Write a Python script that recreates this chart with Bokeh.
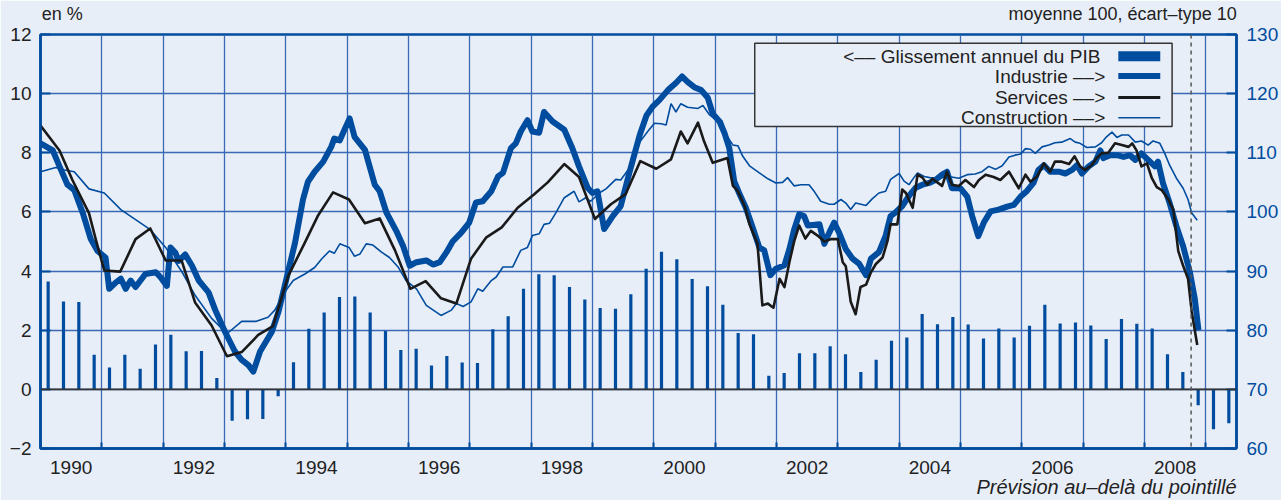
from bokeh.plotting import figure
from bokeh.models import Range1d, LinearAxis, FixedTicker, Span, Label
from bokeh.embed import file_html
from bokeh.resources import INLINE

# ---------------- data ----------------
# GDP year-on-year growth (%), quarterly, 1990T1 .. 2009T2 (left axis)
gdp_start_year = 1990
gdp_growth = [3.65, 2.97, 2.95, 1.17,
              0.74, 1.17, 0.70, 1.52,
              1.85, 1.29, 1.30, 0.38,
              -1.06, -1.01, -1.00, -0.23,
              0.92, 2.05, 2.60, 3.12,
              3.14, 2.60, 1.97, 1.33,
              1.37, 0.81, 1.13, 0.91,
              0.89, 2.03, 2.47, 3.40,
              3.89, 3.86, 3.46, 3.04,
              2.75, 2.73, 3.22, 4.08,
              4.65, 4.40, 3.73, 3.49,
              2.86, 1.91, 1.86, 0.46,
              0.55, 1.22, 1.22, 1.46,
              1.19, 0.59, 1.00, 1.64,
              1.75, 2.55, 2.20, 2.45,
              2.19, 1.72, 2.06, 1.75,
              2.15, 2.86, 2.23, 2.26,
              2.16, 1.70, 2.38, 2.22,
              2.06, 1.19, 0.59, -0.54,
              -1.35, -1.15]
gdp_quarters = [f"{gdp_start_year + i // 4}T{i % 4 + 1}" for i in range(len(gdp_growth))]
gdp_dates = [int(q[:4]) + (int(q[-1]) - 1) * 0.25 + 0.125 for q in gdp_quarters]

# Business climate indicators (mean 100, s.d. 10), right axis
ind_dates = [1990.0, 1990.2, 1990.31, 1990.44, 1990.55, 1990.69, 1990.82, 1990.93, 1991.06, 1991.12,
             1991.23, 1991.31, 1991.39, 1991.47, 1991.55, 1991.71, 1991.88, 1991.96, 1992.06, 1992.12,
             1992.2, 1992.25, 1992.36, 1992.47, 1992.58, 1992.74, 1992.85, 1993.01, 1993.17, 1993.28,
             1993.39, 1993.47, 1993.58, 1993.77, 1993.88, 1994.01, 1994.15, 1994.28, 1994.36, 1994.47,
             1994.61, 1994.74, 1994.79, 1994.88, 1994.96, 1995.04, 1995.12, 1995.29, 1995.45, 1995.53,
             1995.64, 1995.8, 1995.91, 1996.02, 1996.13, 1996.29, 1996.4, 1996.51, 1996.62, 1996.72,
             1996.86, 1996.99, 1997.1, 1997.21, 1997.35, 1997.46, 1997.54, 1997.67, 1997.75, 1997.83,
             1997.94, 1998.02, 1998.13, 1998.21, 1998.35, 1998.54, 1998.67, 1998.78, 1998.92, 1999.0,
             1999.08, 1999.19, 1999.33, 1999.46, 1999.6, 1999.77, 1999.88, 1999.98, 2000.09, 2000.23,
             2000.36, 2000.46, 2000.55, 2000.66, 2000.77, 2000.88, 2000.96, 2001.07, 2001.15, 2001.23,
             2001.31, 2001.39, 2001.5, 2001.61, 2001.72, 2001.8, 2001.9, 2001.99, 2002.13, 2002.21,
             2002.29, 2002.37, 2002.45, 2002.51, 2002.59, 2002.7, 2002.78, 2002.86, 2002.94, 2003.02,
             2003.13, 2003.24, 2003.35, 2003.46, 2003.54, 2003.67, 2003.78, 2003.86, 2003.94, 2004.05,
             2004.16, 2004.27, 2004.38, 2004.49, 2004.59, 2004.7, 2004.78, 2004.86, 2005.0, 2005.11,
             2005.19, 2005.29, 2005.38, 2005.49, 2005.62, 2005.76, 2005.87, 2005.98, 2006.08, 2006.19,
             2006.27, 2006.36, 2006.46, 2006.6, 2006.71, 2006.82, 2006.9, 2006.98, 2007.09, 2007.2,
             2007.28, 2007.33, 2007.44, 2007.55, 2007.66, 2007.76, 2007.85, 2007.95, 2008.06, 2008.17,
             2008.22, 2008.3, 2008.41, 2008.52, 2008.63, 2008.74, 2008.82, 2008.88]
ind_values = [111.6, 110.4, 107.7, 104.6, 103.7, 99.8, 95.4, 93.4, 92.3, 87.0,
              88.1, 88.7, 87.0, 88.4, 87.3, 89.5, 89.8, 88.9, 87.5, 94.0,
              93.1, 91.7, 92.8, 90.9, 88.4, 86.4, 83.4, 79.7, 76.4, 75.0,
              74.1, 73.0, 76.4, 79.7, 83.1, 88.7, 94.8, 102.1, 105.1, 106.8,
              108.5, 111.0, 112.4, 112.1, 114.0, 115.8, 112.7, 110.5, 104.6, 103.5,
              99.9, 96.8, 94.3, 90.9, 91.5, 91.8, 91.1, 91.5, 93.2, 95.0,
              96.5, 98.2, 101.6, 101.8, 103.5, 106.0, 106.6, 110.8, 111.6, 113.6,
              115.5, 113.6, 113.4, 116.9, 115.3, 113.9, 110.8, 107.7, 104.1, 103.2,
              103.5, 97.1, 99.3, 101.0, 106.6, 113.0, 116.3, 117.8, 118.9, 120.6,
              121.8, 122.9, 122.0, 121.1, 120.6, 119.3, 116.6, 115.3, 113.4, 110.8,
              105.2, 103.2, 100.7, 97.4, 94.0, 93.5, 89.3, 90.4, 91.0, 93.7,
              97.1, 99.6, 99.3, 97.7, 97.8, 97.9, 94.6, 96.5, 98.2, 96.5,
              93.7, 92.1, 91.2, 89.3, 92.1, 93.2, 96.0, 99.3, 99.9, 101.0,
              102.7, 104.1, 104.6, 104.9, 105.4, 106.3, 106.8, 104.0, 104.0, 102.6,
              99.3, 95.9, 98.2, 100.1, 100.4, 100.9, 101.2, 102.6, 103.5, 104.9,
              107.1, 107.9, 106.8, 106.8, 106.5, 107.1, 107.9, 106.5, 107.7, 108.5,
              110.4, 109.1, 109.6, 109.6, 109.3, 109.6, 108.8, 109.9, 108.8, 107.7,
              108.5, 104.9, 101.5, 97.6, 94.2, 89.8, 85.3, 80.0]

ser_dates = [1990.0, 1990.31, 1990.52, 1990.79, 1990.9, 1991.04, 1991.3, 1991.55, 1991.79, 1992.04,
             1992.3, 1992.52, 1992.79, 1993.04, 1993.28, 1993.55, 1993.79, 1994.04, 1994.31, 1994.52,
             1994.77, 1995.03, 1995.29, 1995.53, 1995.78, 1996.03, 1996.28, 1996.53, 1996.78, 1997.02,
             1997.27, 1997.52, 1997.78, 1998.05, 1998.27, 1998.54, 1998.78, 1999.04, 1999.3, 1999.54,
             1999.78, 2000.04, 2000.28, 2000.44, 2000.55, 2000.72, 2000.82, 2000.96, 2001.2, 2001.29,
             2001.37, 2001.48, 2001.56, 2001.69, 2001.77, 2001.86, 2001.95, 2002.05, 2002.13, 2002.21,
             2002.29, 2002.37, 2002.47, 2002.56, 2002.67, 2002.78, 2002.89, 2003.0, 2003.08, 2003.13,
             2003.21, 2003.29, 2003.37, 2003.46, 2003.54, 2003.62, 2003.73, 2003.81, 2003.86, 2003.97,
             2004.05, 2004.11, 2004.22, 2004.3, 2004.38, 2004.46, 2004.54, 2004.7, 2004.78, 2004.86,
             2004.97, 2005.08, 2005.22, 2005.3, 2005.41, 2005.54, 2005.65, 2005.79, 2005.87, 2005.95,
             2006.06, 2006.14, 2006.25, 2006.36, 2006.46, 2006.54, 2006.65, 2006.77, 2006.86, 2006.95,
             2007.03, 2007.14, 2007.22, 2007.3, 2007.41, 2007.52, 2007.63, 2007.74, 2007.8, 2007.87,
             2007.95, 2008.04, 2008.12, 2008.2, 2008.28, 2008.39, 2008.47, 2008.55, 2008.63, 2008.71,
             2008.77, 2008.86]
ser_values = [114.6, 110.4, 105.4, 99.8, 95.4, 90.1, 89.9, 95.4, 97.2, 91.8,
              91.8, 84.7, 80.8, 75.6, 76.3, 79.2, 80.7, 89.2, 94.8, 99.3,
              103.3, 102.1, 98.1, 98.9, 93.5, 87.0, 88.3, 85.4, 84.5, 92.1,
              95.7, 97.4, 100.7, 103.0, 105.0, 108.1, 105.9, 98.8, 101.3, 103.0,
              108.6, 107.3, 108.9, 113.6, 111.6, 115.1, 111.9, 108.3, 109.1, 104.4,
              103.5, 101.0, 97.9, 94.6, 84.2, 84.5, 83.8, 88.7, 87.3, 91.5,
              95.1, 97.7, 95.5, 96.8, 96.0, 95.0, 95.4, 95.4, 91.5, 90.8,
              84.8, 82.7, 87.3, 87.7, 89.8, 91.2, 92.3, 95.1, 97.9, 97.9,
              103.8, 103.2, 100.7, 106.3, 105.8, 104.6, 105.6, 104.4, 106.8, 104.6,
              104.4, 105.4, 104.2, 105.4, 106.3, 105.9, 105.4, 106.8, 105.4, 104.0,
              106.3, 105.1, 106.0, 108.2, 106.8, 108.5, 108.5, 108.1, 109.4, 107.7,
              107.1, 107.9, 109.1, 109.9, 110.0, 111.6, 111.3, 111.0, 111.6, 110.4,
              107.7, 108.2, 105.7, 104.2, 103.7, 102.1, 100.4, 93.4, 90.9, 88.7,
              83.1, 77.5]

con_dates = [1990.0, 1990.25, 1990.39, 1990.55, 1990.79, 1991.04, 1991.31, 1991.55, 1991.79, 1992.04,
             1992.31, 1992.52, 1992.79, 1993.04, 1993.28, 1993.52, 1993.71, 1993.82, 1993.98, 1994.12,
             1994.31, 1994.47, 1994.58, 1994.71, 1994.79, 1994.88, 1994.96, 1995.03, 1995.12, 1995.21,
             1995.31, 1995.42, 1995.56, 1995.69, 1995.83, 1995.96, 1996.13, 1996.29, 1996.53, 1996.7,
             1996.78, 1996.89, 1997.02, 1997.13, 1997.21, 1997.35, 1997.43, 1997.54, 1997.7, 1997.83,
             1997.94, 1998.02, 1998.13, 1998.21, 1998.3, 1998.4, 1998.54, 1998.7, 1998.78, 1998.89,
             1998.97, 1999.11, 1999.22, 1999.38, 1999.46, 1999.6, 1999.77, 1999.9, 2000.01, 2000.12,
             2000.2, 2000.28, 2000.36, 2000.44, 2000.55, 2000.72, 2000.8, 2000.91, 2001.01, 2001.11,
             2001.2, 2001.29, 2001.37, 2001.45, 2001.56, 2001.72, 2001.86, 2001.99, 2002.1, 2002.18,
             2002.29, 2002.4, 2002.53, 2002.62, 2002.72, 2002.86, 2002.94, 2003.05, 2003.13, 2003.21,
             2003.29, 2003.46, 2003.56, 2003.67, 2003.78, 2003.86, 2004.0, 2004.08, 2004.16, 2004.24,
             2004.3, 2004.41, 2004.5, 2004.65, 2004.81, 2004.97, 2005.11, 2005.24, 2005.35, 2005.46,
             2005.57, 2005.68, 2005.79, 2005.89, 2005.98, 2006.06, 2006.14, 2006.22, 2006.33, 2006.44,
             2006.54, 2006.65, 2006.79, 2006.87, 2006.95, 2007.06, 2007.2, 2007.3, 2007.38, 2007.47,
             2007.55, 2007.63, 2007.74, 2007.85, 2007.95, 2008.06, 2008.14, 2008.25, 2008.33, 2008.41,
             2008.52, 2008.63, 2008.71, 2008.77, 2008.86]
con_values = [106.8, 107.5, 107.1, 106.8, 103.9, 103.2, 100.4, 98.7, 97.0, 94.0,
              89.8, 85.9, 82.0, 79.4, 81.5, 81.5, 82.2, 83.4, 86.4, 88.4,
              89.5, 90.6, 92.0, 93.4, 93.0, 94.6, 94.3, 94.0, 92.5, 92.9,
              94.6, 94.4, 93.2, 92.3, 90.7, 88.4, 87.0, 84.2, 82.5, 83.4,
              84.5, 84.0, 84.8, 87.0, 86.6, 88.4, 89.0, 90.7, 90.7, 93.5,
              94.0, 96.0, 96.3, 97.9, 98.1, 99.8, 102.4, 103.5, 101.7, 102.4,
              101.8, 103.2, 103.9, 105.5, 105.4, 107.4, 111.8, 113.6, 115.0, 114.9,
              114.7, 118.3, 116.9, 118.3, 117.7, 117.5, 118.0, 116.4, 115.6, 115.4,
              112.7, 111.3, 111.2, 109.4, 107.8, 106.6, 105.6, 104.9, 105.0, 105.8,
              104.4, 104.6, 104.6, 103.4, 101.8, 101.3, 101.3, 102.1, 101.5, 100.4,
              101.5, 101.1, 102.2, 103.2, 103.5, 105.5, 106.5, 105.2, 104.6, 105.8,
              106.6, 106.0, 105.8, 105.7, 106.0, 105.7, 106.3, 106.4, 106.8, 107.7,
              107.2, 107.8, 109.3, 109.6, 109.8, 110.7, 110.6, 109.9, 111.0, 111.3,
              111.7, 111.8, 112.4, 111.8, 111.6, 110.9, 111.0, 111.7, 112.7, 113.5,
              112.6, 113.0, 113.0, 111.8, 112.0, 111.3, 112.0, 111.6, 109.9, 107.9,
              105.7, 104.0, 102.1, 99.8, 98.6]

forecast_start = 2008.76
left_ticks = [-2, 0, 2, 4, 6, 8, 10, 12]
right_ticks = [60, 70, 80, 90, 100, 110, 120, 130]
year_labels = [1990, 1992, 1994, 1996, 1998, 2000, 2002, 2004, 2006, 2008]
year_lines = list(range(1990, 2010))

legend_labels = ["<–– Glissement annuel du PIB", "Industrie ––>", "Services ––>", "Construction ––>"]
left_unit_text = "en %"
right_unit_text = "moyenne 100, écart–type 10"
note_text = "Prévision au–delà du pointillé"

# ---------------- style ----------------
BG = "#e8eef8"
BLUE = "#004c9e"
GRID = "#3a6ab4"
TXT = "#222222"
FONT = "Liberation Sans"
FS = "19px"

p = figure(width=1281, height=500, output_backend="svg", toolbar_location=None,
           x_range=Range1d(1990, 2009.5), y_range=Range1d(-2, 12),
           min_border_left=40, min_border_right=44, min_border_top=33, min_border_bottom=49,
           background_fill_color=BG, border_fill_color=BG)
p.extra_y_ranges = {"clim": Range1d(60, 130)}

p.outline_line_color = BLUE
p.outline_line_width = 2.5

# grids
p.xgrid.ticker = FixedTicker(ticks=year_lines)
p.ygrid.ticker = FixedTicker(ticks=left_ticks)
for g in (p.xgrid, p.ygrid):
    g.grid_line_color = GRID
    g.grid_line_width = 1.3

# x axis
xa = p.xaxis[0]
xa.ticker = FixedTicker(ticks=[y + 0.5 for y in year_labels], minor_ticks=year_lines)
xa.major_label_overrides = {y + 0.5: str(y) for y in year_labels}
xa.major_tick_line_color = None
xa.minor_tick_in = 6
xa.minor_tick_out = 0
xa.minor_tick_line_color = BLUE
xa.minor_tick_line_width = 2
xa.axis_line_color = BLUE
xa.axis_line_width = 2.5
xa.major_label_text_font = FONT
xa.major_label_text_font_size = FS
xa.major_label_text_color = TXT
xa.major_label_standoff = 6

# left axis
ya = p.yaxis[0]
ya.ticker = FixedTicker(ticks=left_ticks)
ya.major_label_overrides = {-2: "−2"}
ya.major_tick_in = 10
ya.major_tick_out = 0
ya.major_tick_line_color = BLUE
ya.major_tick_line_width = 2
ya.minor_tick_line_color = None
ya.axis_line_color = BLUE
ya.axis_line_width = 2.5
ya.major_label_text_font = FONT
ya.major_label_text_font_size = FS
ya.major_label_text_color = TXT
ya.major_label_standoff = 9

# right axis
ra = LinearAxis(y_range_name="clim", ticker=FixedTicker(ticks=right_ticks))
ra.major_tick_in = 10
ra.major_tick_out = 0
ra.major_tick_line_color = BLUE
ra.major_tick_line_width = 2
ra.minor_tick_line_color = None
ra.axis_line_color = BLUE
ra.axis_line_width = 2.5
ra.major_label_text_font = FONT
ra.major_label_text_font_size = FS
ra.major_label_text_color = BLUE
ra.major_label_standoff = 10
p.add_layout(ra, "right")

# texts outside the frame, carried by label-only axes
def text_axis(ticks_labels, standoff, size, style="normal"):
    ax = LinearAxis(ticker=FixedTicker(ticks=list(ticks_labels.keys())),
                    major_label_overrides=ticks_labels)
    ax.axis_line_color = None
    ax.major_tick_line_color = None
    ax.minor_tick_line_color = None
    ax.major_label_standoff = standoff
    ax.major_label_text_font = FONT
    ax.major_label_text_font_size = size
    ax.major_label_text_font_style = style
    ax.major_label_text_color = TXT
    return ax

p.add_layout(text_axis({1990.353: left_unit_text, 2007.643: right_unit_text}, 5, "18px"), "above")
p.add_layout(text_axis({2007.38: note_text}, -7, "20px", "italic"), "below")

# zero line
p.add_layout(Span(location=0, dimension="width", line_color="#333333", line_width=1.6))

# GDP bars
p.vbar(x=gdp_dates, top=gdp_growth, bottom=0, width=0.052, fill_color=BLUE, line_color=None)

# climate lines
p.line(con_dates, con_values, y_range_name="clim", line_color=BLUE, line_width=1.6)
p.line(ind_dates, ind_values, y_range_name="clim", line_color=BLUE, line_width=6, line_join="round")
p.line(ser_dates, ser_values, y_range_name="clim", line_color="#1a1a1a", line_width=2.6, line_join="round")

# forecast marker
p.add_layout(Span(location=forecast_start, dimension="height", line_color="#555555",
                  line_width=1.5, line_dash="4 4"))

# legend (manual, glyph to the right of text)
p.quad(left=2001.645, right=2008.45, bottom=8.885, top=11.70, fill_color=BG,
       line_color="#333333", line_width=1.5)
rows = [11.263, 10.593, 9.873, 9.187]
gx0, gx1 = 2007.573, 2008.257
p.quad(left=gx0, right=gx1, bottom=rows[0] - 0.17, top=rows[0] + 0.17, fill_color=BLUE, line_color=None)
p.segment(x0=gx0, x1=gx1, y0=rows[1], y1=rows[1], line_color=BLUE, line_width=6)
p.segment(x0=gx0, x1=gx1, y0=rows[2], y1=rows[2], line_color="#1a1a1a", line_width=3)
p.segment(x0=gx0, x1=gx1, y0=rows[3], y1=rows[3], line_color=BLUE, line_width=1.6)
text_right = [2007.28, 2007.36, 2007.36, 2007.36]
for lab, yy, xr in zip(legend_labels, rows, text_right):
    p.add_layout(Label(x=xr, y=yy, text=lab, text_align="right", text_baseline="middle",
                       text_font=FONT, text_font_size=FS, text_color=TXT))

open("out.html", "w").write(file_html(p, INLINE))
